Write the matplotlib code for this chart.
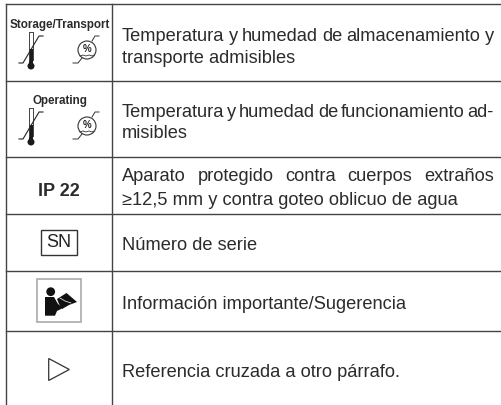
import matplotlib
matplotlib.use("Agg")
import matplotlib.pyplot as plt
from matplotlib.patches import Circle, Rectangle, Polygon, Ellipse

plt.rcParams['font.family'] = ['Liberation Sans', 'DejaVu Sans']

W, H = 501, 406
TEXT = "#2b2b2b"
LINE = "#444444"

row_lines = [5, 82, 158, 215, 272, 332]
col_lines = [6, 112]
right_edge = 501

# text lines: (y centre, text, justified)
desc_lines = [
    (34.3, "Temperatura y humedad de almacenamiento y", True),
    (56.3, "transporte admisibles", False),
    (110.8, "Temperatura y humedad de funcionamiento ad-", True),
    (132, "misibles", False),
    (175, "Aparato protegido contra cuerpos extraños", True),
    (199, "≥12,5 mm y contra goteo oblicuo de agua", False),
    (243.5, "Número de serie", False),
    (302.8, "Información importante/Sugerencia", False),
    (370.8, "Referencia cruzada a otro párrafo.", False),
]
icon_titles = [(25, "Storage/Transport", 8.4), (101, "Operating", 8.4)]

fig = plt.figure(figsize=(W / 100, H / 100), dpi=100)
ax = fig.add_axes([0, 0, 1, 1])
ax.set_xlim(0, W)
ax.set_ylim(H, 0)
ax.axis("off")


def put_line(y, s, justify, x0=122, x1=494, size=13.15):
    r = fig.canvas.get_renderer()
    if not justify:
        ax.text(x0, y, s, fontsize=size, color=TEXT, va="center_baseline", ha="left")
        return
    words = s.split(" ")
    probes = [ax.text(0, 0, w, fontsize=size) for w in words]
    widths = [p.get_window_extent(r).width for p in probes]
    for p in probes:
        p.remove()
    gap = (x1 - x0 - sum(widths)) / (len(words) - 1)
    x = x0
    for w, wd in zip(words, widths):
        ax.text(x, y, w, fontsize=size, color=TEXT, va="center_baseline", ha="left")
        x += wd + gap


def thermometer(cx, top):
    # cx is the stem centre, top the stem's upper end
    ax.plot([cx - 2, cx - 2], [top, top + 28], color=LINE, lw=0.7)
    ax.plot([cx + 2, cx + 2], [top, top + 28], color=LINE, lw=0.7)
    ax.plot([cx - 2, cx + 2], [top, top], color=LINE, lw=0.7)
    ax.add_patch(Rectangle((cx - 2, top + 17), 4, 17, color="#1a1a1a", lw=0))
    ax.add_patch(Circle((cx, top + 34), 3.5, color="#1a1a1a", lw=0))
    ax.plot([cx - 12, cx - 8, cx + 8, cx + 12],
            [top + 31, top + 31, top + 4, top + 4], color="#222222", lw=0.8)


def humidity(cx, cy):
    ax.add_patch(Ellipse((cx, cy), 18, 18, fill=False, ec="#333333", lw=0.8))
    ax.text(cx, cy - 2, "%", fontsize=7, fontweight="bold", color="#222222",
            ha="center", va="center")
    ax.plot([cx - 7, cx - 4, cx - 1, cx + 2, cx + 5, cx + 7],
            [cy + 6, cy + 5, cy + 6, cy + 5, cy + 6, cy + 5], color="#333333", lw=0.6)
    ax.plot([cx - 14, cx - 9, cx - 5], [cy + 13, cy + 13, cy + 8], color="#333333", lw=0.7)
    ax.plot([cx + 5, cx + 8, cx + 12], [cy - 9, cy - 14, cy - 14], color="#333333", lw=0.7)


for y in row_lines:
    ax.plot([col_lines[0], right_edge], [y, y], color=LINE, lw=1.0)
for x in col_lines:
    ax.plot([x, x], [row_lines[0], H], color=LINE, lw=1.0)

for y, s, size in icon_titles:
    ax.text(59.5, y, s, fontsize=size, fontweight="bold", color=TEXT, ha="center", va="center")

for y, s, j in desc_lines:
    put_line(y, s, j)

thermometer(31, 33)
humidity(87, 51)
thermometer(31, 109)
humidity(87, 127)

ax.text(59, 192, "IP 22", fontsize=13, fontweight="bold", color=TEXT, ha="center", va="center")

# SN box
ax.add_patch(Rectangle((41, 230.5), 36, 25.5, fill=False, ec="#333333", lw=1.0))
ax.text(59, 243, "SN", fontsize=13, color="#222222", ha="center", va="center")

# book reader icon
ax.add_patch(Rectangle((37.5, 280), 44, 43, fc="white", ec="#aaaaaa", lw=1.2))
ax.add_patch(Circle((50.7, 292.7), 4.4, color="#111111", lw=0))
ax.add_patch(Polygon([(45, 298), (54, 298), (58, 305), (63, 309), (57, 312), (55, 316.7),
                      (45, 316.7)], color="#111111", lw=0))
ax.add_patch(Polygon([(57, 300), (66.5, 294), (77, 303), (69, 306), (62, 310), (59, 305)],
                     color="#111111", lw=0))
ax.plot([60, 65, 71], [299, 302, 304], color="white", lw=0.5)

# cross reference arrow
ax.add_patch(Polygon([(48.7, 359.5), (69.3, 370.5), (48.7, 381.5)], fill=False, ec="#333333", lw=0.9))

fig.savefig("out.png", dpi=100)
